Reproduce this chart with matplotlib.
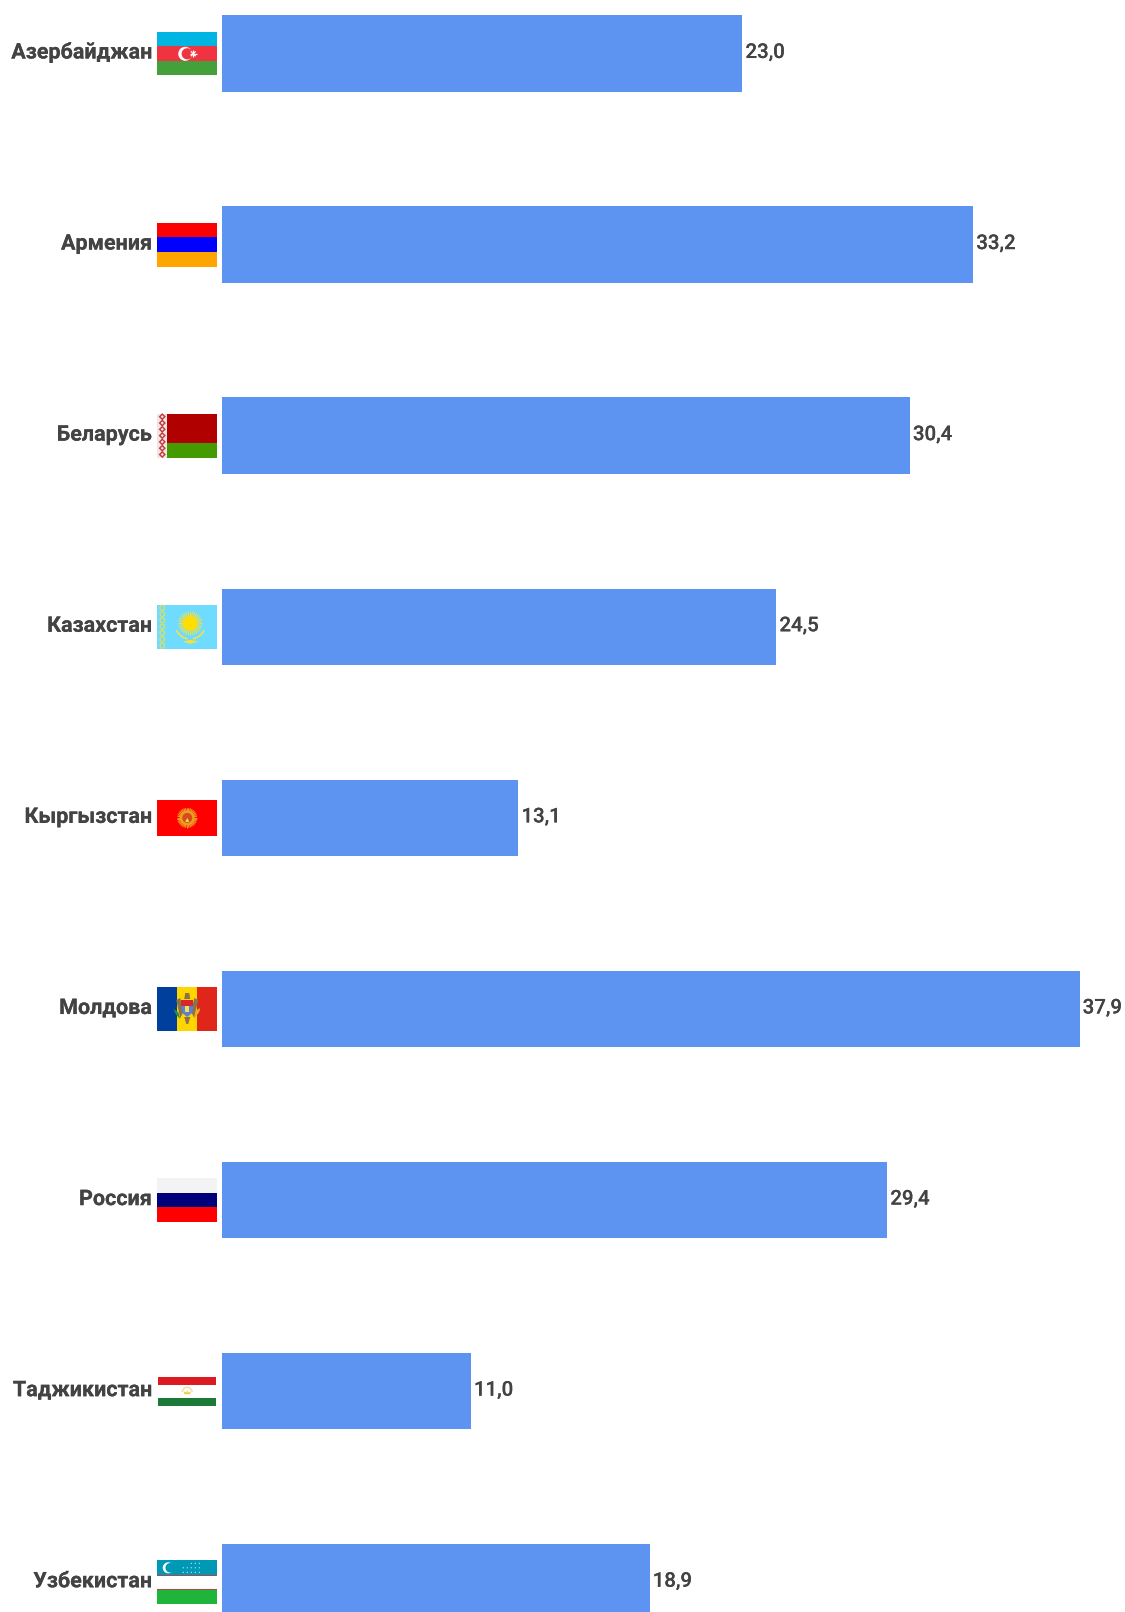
# -*- coding: utf-8 -*-
import numpy as np
import matplotlib
matplotlib.use('Agg')
import matplotlib.pyplot as plt
import matplotlib.patheffects as pe
from matplotlib.patches import Rectangle, Circle, Polygon, Wedge, Ellipse
from matplotlib.transforms import Affine2D

plt.rcParams['font.family'] = ['Roboto', 'DejaVu Sans']

countries = ['Азербайджан', 'Армения', 'Беларусь', 'Казахстан', 'Кыргызстан',
             'Молдова', 'Россия', 'Таджикистан', 'Узбекистан']
values = [23.0, 33.2, 30.4, 24.5, 13.1, 37.9, 29.4, 11.0, 18.9]

W, H = 1125, 1612
X0 = 222.0          # pixel of value 0
PX_PER_UNIT = 22.63
Y0 = 53.5           # pixel centre of first bar
STEP = 191.1
TEXT = '#434343'


def rect(ax, tr, x0, y0, x1, y1, c):
    ax.add_patch(Rectangle((x0, y0), x1 - x0, y1 - y0, fc=c, ec='none', transform=tr))


def circ(ax, tr, x, y, r, c):
    ax.add_patch(Circle((x, y), r, fc=c, ec='none', transform=tr))


def poly(ax, tr, pts, c):
    ax.add_patch(Polygon(pts, closed=True, fc=c, ec='none', transform=tr))


def sun(ax, tr, x, y, r_in, r_out, c, n=24, lw=0.7):
    for a in np.linspace(0, 2 * np.pi, n, endpoint=False):
        ax.plot([x + r_in * np.cos(a), x + r_out * np.cos(a)],
                [y + r_in * np.sin(a), y + r_out * np.sin(a)],
                color=c, lw=lw, transform=tr, solid_capstyle='butt')


def flag_az(ax, tr):
    rect(ax, tr, -30, -22, 30, -7.3, '#00b5e2')
    rect(ax, tr, -30, -7.3, 30, 7.3, '#ef3340')
    rect(ax, tr, -30, 7.3, 30, 22, '#43a03a')
    circ(ax, tr, -2, 0.3, 7, 'white')
    circ(ax, tr, 0, 0.3, 5.6, '#ef3340')
    sun(ax, tr, 6, 0.3, 0, 3.4, 'white', n=8, lw=0.9)


def flag_am(ax, tr):
    rect(ax, tr, -30, -22, 30, -7.3, '#ff0000')
    rect(ax, tr, -30, -7.3, 30, 7.3, '#0000ff')
    rect(ax, tr, -30, 7.3, 30, 22, '#ffa500')


def flag_by(ax, tr):
    rect(ax, tr, -30, -22, -20, 22, '#f3e3e3')
    rect(ax, tr, -20, -22, 30, 7.3, '#b00000')
    rect(ax, tr, -20, 7.3, 30, 22, '#439b00')
    for yy in np.arange(-19, 22, 6.3):
        d = 3.6
        poly(ax, tr, [(-25, yy - d), (-25 + d, yy), (-25, yy + d), (-25 - d, yy)], '#c0383c')
        d = 1.6
        poly(ax, tr, [(-25, yy - d), (-25 + d, yy), (-25, yy + d), (-25 - d, yy)], '#f6e6e6')


def flag_kz(ax, tr):
    yellow = '#f7e23a'
    rect(ax, tr, -30, -22, 30, 22, '#6fdcff')
    for yy in np.arange(-19, 22, 6.3):
        ax.add_patch(Ellipse((-25, yy), 4.5, 5, fc='none', ec='#cfe070', lw=1, transform=tr))
    sun(ax, tr, 3, -3.5, 7.5, 12, yellow, n=32, lw=0.7)
    circ(ax, tr, 3, -3.5, 7.5, '#ffdd00')
    ax.add_patch(Wedge((3, -3), 16, 25, 80, width=1.6, fc=yellow, ec='none', transform=tr))
    ax.add_patch(Wedge((3, -3), 16, 100, 155, width=1.6, fc=yellow, ec='none', transform=tr))
    poly(ax, tr, [(-4, 15), (3, 13), (11, 15), (3, 17)], yellow)


def flag_kg(ax, tr):
    rect(ax, tr, -30, -18, 30, 18, '#ff0000')
    sun(ax, tr, 0, 0, 7, 10, '#f0a020', n=36, lw=0.8)
    circ(ax, tr, 0, 0, 7.5, '#e8a020')
    circ(ax, tr, 0, 0, 5, '#d84a20')
    poly(ax, tr, [(-2, 4), (0, 0), (2, 4)], '#ffe040')


def flag_md(ax, tr):
    rect(ax, tr, -30, -22, -10, 22, '#003f9c')
    rect(ax, tr, -10, -22, 10, 22, '#ffd500')
    rect(ax, tr, 10, -22, 30, 22, '#e0251a')
    # eagle wings and shield
    poly(ax, tr, [(-11, -9), (-7, -11), (-4, 3), (-7, 9)], '#8a7348')
    poly(ax, tr, [(11, -9), (7, -11), (4, 3), (7, 9)], '#8a7348')
    poly(ax, tr, [(-2, -16), (2, -16), (3, -10), (-3, -10)], '#8a7348')
    rect(ax, tr, -6, -9, 6, -3, '#d8262c')
    poly(ax, tr, [(-6, -3), (6, -3), (5, 4), (0, 8), (-5, 4)], '#5f7fd0')
    rect(ax, tr, -2, -3, 2, 3, '#f4e050')
    poly(ax, tr, [(-3, 8), (3, 8), (1, 15), (-1, 15)], '#8a7348')
    poly(ax, tr, [(-14, 0), (-9, 3), (-7, 10), (-11, 6)], '#2f8f3a')
    poly(ax, tr, [(8, 2), (13, -1), (12, 3), (7, 10)], '#e8b020')


def flag_ru(ax, tr):
    rect(ax, tr, -30, -22, 30, -7.3, '#f3f3f5')
    rect(ax, tr, -30, -7.3, 30, 7.3, '#00007a')
    rect(ax, tr, -30, 7.3, 30, 22, '#ff0000')


def flag_tj(ax, tr):
    rect(ax, tr, -29, -14.5, 29, -6.5, '#dc1a22')
    rect(ax, tr, -29, -6.5, 29, 6.5, 'white')
    rect(ax, tr, -29, 6.5, 29, 14.5, '#1c7a38')
    ax.add_patch(Wedge((0, 1), 5.5, 180, 360, width=1.2, fc='#f3d98a', ec='none', transform=tr))
    poly(ax, tr, [(-3, 3), (-3.5, 0), (-1, 1.5), (0, -1), (1, 1.5), (3.5, 0), (3, 3)], '#f0c850')


def flag_uz(ax, tr):
    rect(ax, tr, -30, -22, 30, -7.5, '#0099b5')
    rect(ax, tr, -30, -7.5, 30, -6.5, '#b5444a')
    rect(ax, tr, -30, -6.5, 30, 6.5, 'white')
    rect(ax, tr, -30, 6.5, 30, 7.5, '#b5444a')
    rect(ax, tr, -30, 7.5, 30, 22, '#1eb53a')
    circ(ax, tr, -19, -14.5, 5.5, 'white')
    circ(ax, tr, -17, -14.5, 4.8, '#0099b5')
    xs = [-4, 0, 4, 8, 12]
    for row, yy in enumerate([-19, -14.5, -10]):
        for xx in xs[max(0, 2 - 2 * row):]:
            circ(ax, tr, xx, yy, 0.55, 'white')


flags = [flag_az, flag_am, flag_by, flag_kz, flag_kg, flag_md, flag_ru, flag_tj, flag_uz]

fig = plt.figure(figsize=(W / 100, H / 100), dpi=100, facecolor='white')
ax = fig.add_axes([0, 0, 1, 1])
ax.set_xlim(-X0 / PX_PER_UNIT, (W - X0) / PX_PER_UNIT)
ax.set_ylim((H - Y0) / STEP, -Y0 / STEP)
ax.axis('off')

y = np.arange(len(countries))
ax.barh(y, values, height=76.5 / STEP, color='#5d93f1', linewidth=0)

for i, (name, v) in enumerate(zip(countries, values)):
    ax.annotate(name, (0, i), xytext=(-70, 1), textcoords='offset pixels',
                ha='right', va='center', fontsize=15.5, fontweight='bold', color=TEXT,
                path_effects=[pe.withStroke(linewidth=0.08, foreground=TEXT)])
    ax.annotate(f'{v:.1f}'.replace('.', ','), (v, i), xytext=(3, 1), textcoords='offset pixels',
                ha='left', va='center', fontsize=14.7, fontweight='medium', color=TEXT,
                path_effects=[pe.withStroke(linewidth=0.05, foreground=TEXT)])
    # flag centred 35 px left of the bar start, y axis of the flag points down
    px, py = ax.transData.transform((0, i))
    tr = Affine2D().scale(1, -1).translate(px - 34.75, py)
    flags[i](ax, tr)

fig.savefig('out.png', dpi=100)
